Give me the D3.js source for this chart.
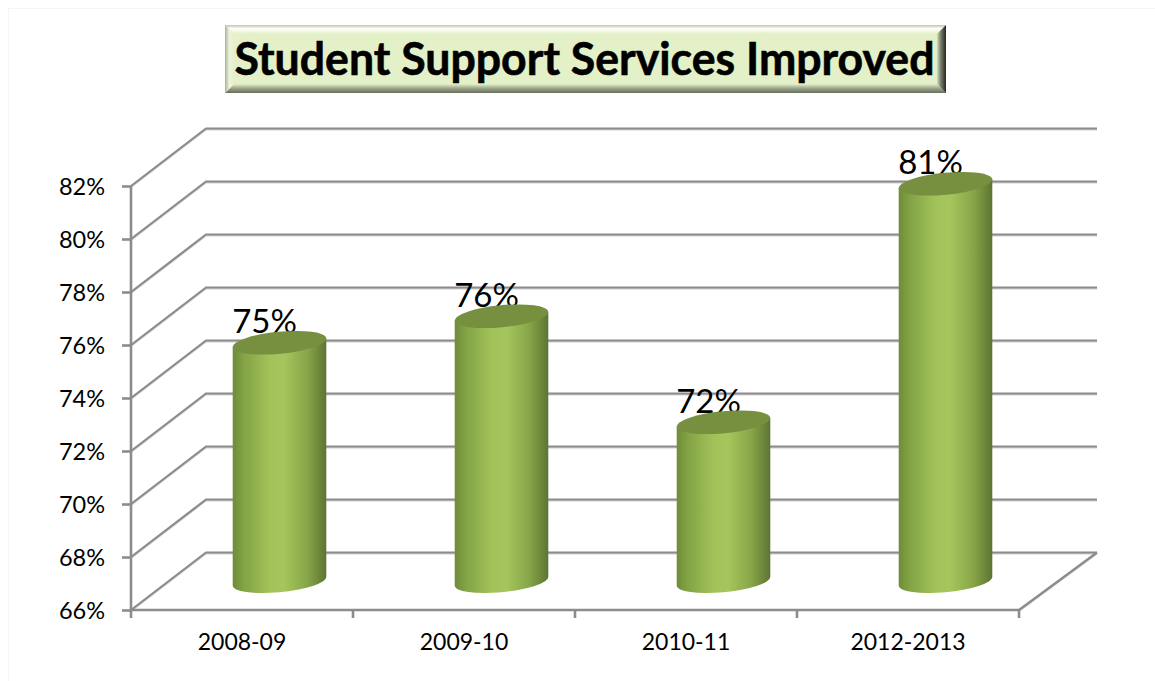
<!DOCTYPE html>
<html>
<head>
<meta charset="utf-8">
<script src="https://cdn.jsdelivr.net/npm/d3@7/dist/d3.min.js"></script>
<style>
  html, body { margin: 0; padding: 0; background: #fff; }
  svg { display: block; }
  text { font-family: Lato, "Noto Sans", sans-serif; fill: #000; }
</style>
</head>
<body>
<script>
// Chart content
const chartTitle = "Student Support Services Improved";
const years = ["2008-09", "2009-10", "2010-11", "2012-2013"];
const improved = [75, 76, 72, 81];
const valueTicks = [66, 68, 70, 72, 74, 76, 78, 80, 82];

const width = 1155, height = 681;
// Oblique offset between the front plane and the back wall of the 3D box
const depthX = 75, depthY = -57.5;
const wallRight = 1097;
const gridColor = "#8c8c8c", gridShade = "#cfcfcf";

const svg = d3.select("body").append("svg").attr("width", width).attr("height", height);
const defs = svg.append("defs");

// Faint outline of the chart area
svg.append("path").attr("d", `M8.5,${height}V8.5H${width}`)
  .attr("fill", "none").attr("stroke", "#f5f5f5").attr("stroke-width", 1);

const x = d3.scaleBand().domain(years).range([131, 1019]);
const y = d3.scaleLinear().domain([66, 82]).range([610, 186]);

// Horizontal shading that makes each bar read as a cylinder
const bodyGrad = defs.append("linearGradient").attr("id", "cylinder");
[[0, "#6f8c3a"], [0.12, "#83a345"], [0.4, "#a2c35a"], [0.55, "#a4c65c"],
 [0.8, "#87a548"], [1, "#5c7433"]].forEach(([o, c]) =>
  bodyGrad.append("stop").attr("offset", o).attr("stop-color", c));

// Title plate with bevelled edges
const box = { x0: 225, x1: 946, y0: 25, y1: 93, b: 9 };
const bevel = (id, dir, stops) => {
  const g = defs.append("linearGradient").attr("id", id)
    .attr("x1", dir[0]).attr("y1", dir[1]).attr("x2", dir[2]).attr("y2", dir[3]);
  stops.forEach(([o, c]) => g.append("stop").attr("offset", o).attr("stop-color", c));
};
bevel("bevelTop", [0, 0, 0, 1], [[0, "#bcc7a6"], [0.4, "#ffffff"], [1, "#e3f0c8"]]);
bevel("bevelBottom", [0, 0, 0, 1], [[0, "#e3f0c8"], [0.5, "#9aa289"], [1, "#686e5c"]]);
bevel("bevelLeft", [0, 0, 1, 0], [[0, "#aab494"], [0.5, "#eef5dd"], [1, "#e3f0c8"]]);
bevel("bevelRight", [0, 0, 1, 0], [[0, "#d5e1bb"], [0.4, "#7b826f"], [1, "#23261e"]]);

const plate = svg.append("g").attr("class", "title-plate");
const { x0, x1, y0, y1, b } = box;
plate.append("rect").attr("x", x0).attr("y", y0).attr("width", x1 - x0).attr("height", y1 - y0).attr("fill", "#e3f0c8");
[
  ["bevelTop", [[x0, y0], [x1, y0], [x1 - b, y0 + b], [x0 + b, y0 + b]]],
  ["bevelBottom", [[x0, y1], [x1, y1], [x1 - b, y1 - b], [x0 + b, y1 - b]]],
  ["bevelLeft", [[x0, y0], [x0 + b, y0 + b], [x0 + b, y1 - b], [x0, y1]]],
  ["bevelRight", [[x1, y0], [x1 - b, y0 + b], [x1 - b, y1 - b], [x1, y1]]]
].forEach(([id, pts]) => plate.append("polygon")
  .attr("points", pts.map(p => p.join(",")).join(" "))
  .attr("fill", `url(#${id})`));
plate.append("text")
  .attr("x", (x0 + x1) / 2 - 1).attr("y", 75)
  .attr("text-anchor", "middle")
  .attr("font-size", 45).attr("font-weight", 700)
  .attr("stroke", "#000").attr("stroke-width", 0.6)
  .attr("textLength", 700).attr("lengthAdjust", "spacingAndGlyphs")
  .text(chartTitle);

// Gridlines: each runs along the side wall, then across the back wall
const [frontLeft, frontRight] = x.range();
const gridPath = v => `M${frontLeft},${y(v)}L${frontLeft + depthX},${y(v) + depthY}L${wallRight},${y(v) + depthY}`;
const floorEdge = `M${frontRight},${y(66)}L${wallRight},${y(66) + depthY}`;
[[gridShade, 1, 2], [gridColor, 0, 2.2]].forEach(([color, shift, w]) => {
  const grid = svg.append("g").attr("fill", "none").attr("stroke", color).attr("stroke-width", w)
    .attr("transform", `translate(0,${shift})`);
  grid.selectAll("path").data(valueTicks).join("path").attr("d", gridPath);
  grid.append("path").attr("d", floorEdge);
});

// Value axis on the front plane
const axisY = svg.append("g").attr("transform", `translate(${frontLeft},0)`)
  .call(d3.axisLeft(y).tickValues(valueTicks).tickSize(9).tickPadding(17).tickFormat(d => d + "%"));
axisY.selectAll("text").attr("font-size", 23.5).attr("dy", "0.36em");

// Category axis: labels sit under each band, tick marks on the band edges
const axisX = svg.append("g").attr("transform", `translate(0,${y(66)})`)
  .call(d3.axisBottom(x).tickSize(0).tickPadding(24));
axisX.selectAll("text").attr("font-size", 23);
axisX.selectAll(".edge").data(years.map(d => x(d)).concat(frontRight)).join("line")
  .attr("class", "edge")
  .attr("x1", d => d).attr("x2", d => d).attr("y1", 0).attr("y2", 8);
[axisY, axisX].forEach(a => {
  a.attr("font-family", null);
  a.selectAll(".domain, line").attr("stroke", gridColor).attr("stroke-width", 2.6);
  a.select(".domain").attr("d", a === axisY
    ? `M0,${y(82)}V${y(66)}`
    : `M${frontLeft},0H${frontRight}`);
});

// Cylinders: centred in the box depth, with tilted elliptical ends
const rx = 47, ry = 11, tilt = -5.5;
const t = tilt * Math.PI / 180;
const halfW = Math.sqrt((rx * Math.cos(t)) ** 2 + (ry * Math.sin(t)) ** 2);
const edgeDy = (rx * rx - ry * ry) * Math.sin(-t) * Math.cos(t) / halfW;
const midDepthX = depthX / 2, midDepthY = depthY / 2;

const bars = svg.append("g").selectAll("g").data(years.map((k, i) => ({ k, v: improved[i] }))).join("g")
  .attr("transform", d => `translate(${x(d.k) + x.bandwidth() / 2 + midDepthX},0)`);

bars.append("text")
  .attr("x", -15)
  .attr("y", d => y(d.v) + midDepthY - 9.5)
  .attr("text-anchor", "middle")
  .attr("font-size", 33)
  .text(d => d.v + "%");

bars.append("path")
  .attr("fill", "url(#cylinder)")
  .attr("d", d => {
    const top = y(d.v) + midDepthY, bottom = y(66) + midDepthY;
    return `M${-halfW},${top + edgeDy}L${-halfW},${bottom + edgeDy}` +
      `A${rx},${ry} ${tilt} 0 0 ${halfW},${bottom - edgeDy}` +
      `L${halfW},${top - edgeDy}Z`;
  });

bars.append("ellipse")
  .attr("rx", rx).attr("ry", ry)
  .attr("transform", d => `translate(0,${y(d.v) + midDepthY}) rotate(${tilt})`)
  .attr("fill", "#76903f");
</script>
</body>
</html>
